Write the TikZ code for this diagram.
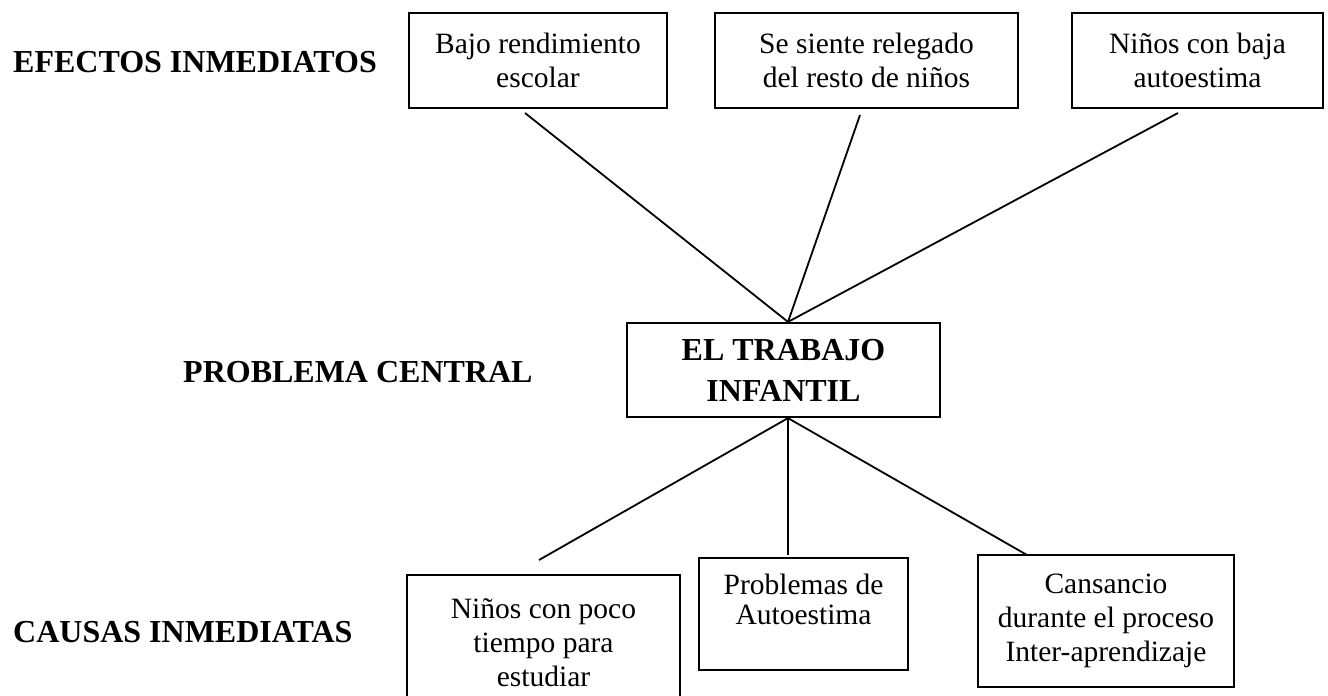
\documentclass[tikz,border=0pt]{standalone}
\usepackage{fontspec}
\setmainfont{Liberation Serif}
\usetikzlibrary{positioning}

\tikzset{
  caja/.style={draw, line width=2.2pt, align=center, inner sep=0pt,
    font=\fontsize{29.5}{34}\selectfont},
  texto/.style={align=center, inner sep=0pt, font=\fontsize{29.5}{30}\selectfont},
  titulo/.style={anchor=west, inner sep=0pt, font=\bfseries\fontsize{32}{38}\selectfont},
  linea/.style={line width=1.8pt}
}

\begin{document}
\begin{tikzpicture}[x=1pt,y=-1pt]
  \useasboundingbox (0,0) rectangle (1328,696);
  \clip (0,0) rectangle (1328,696);

  % titulos
  \node[titulo] (tit1) at (13,62) {EFECTOS INMEDIATOS};
  \node[titulo] (tit2) at (183,372) {PROBLEMA CENTRAL};
  \node[titulo] (tit3) at (13,632) {CAUSAS INMEDIATAS};

  % efectos
  \node[caja, minimum width=258pt, minimum height=95pt] (node1) at (538,60.5) {Bajo rendimiento\\escolar};
  \node[caja, minimum width=303pt, minimum height=95pt] (node2) at (866.5,60.5) {Se siente relegado\\del resto de niños};
  \node[caja, minimum width=251pt, minimum height=95pt] (node3) at (1197.5,60.5) {Niños con baja\\autoestima};

  % problema central
  \node[caja, minimum width=313pt, minimum height=94pt,
    font=\bfseries\fontsize{32}{41}\selectfont] (node4) at (783.5,370) {EL TRABAJO\\INFANTIL};

  % causas
  \node[caja, minimum width=273pt, minimum height=135pt] (node5) at (543.5,642.5) {Niños con poco\\tiempo para\\estudiar};
  \node[caja, minimum width=209pt, minimum height=112pt] (node6) at (803.5,614) {};
  \node[texto, anchor=north] (node6t) at (803.5,574) {Problemas de\\Autoestima};
  \node[caja, minimum width=256pt, minimum height=132pt] (node7) at (1106,621) {Cansancio\\durante el proceso\\Inter-aprendizaje};

  % extremos libres
  \coordinate (e1) at (525,113);
  \coordinate (e2) at (860,115);
  \coordinate (e3) at (1178,113);
  \coordinate (c1) at (539,560);
  \coordinate (c2) at (788,555);
  \coordinate (c3) at (1027,555);

  \foreach \e in {e1,e2,e3}
    \draw[linea] (\e) -- ([xshift=4.5pt]node4.north);
  \foreach \c in {c1,c2,c3}
    \draw[linea] ([xshift=4.5pt]node4.south) -- (\c);
\end{tikzpicture}
\end{document}
